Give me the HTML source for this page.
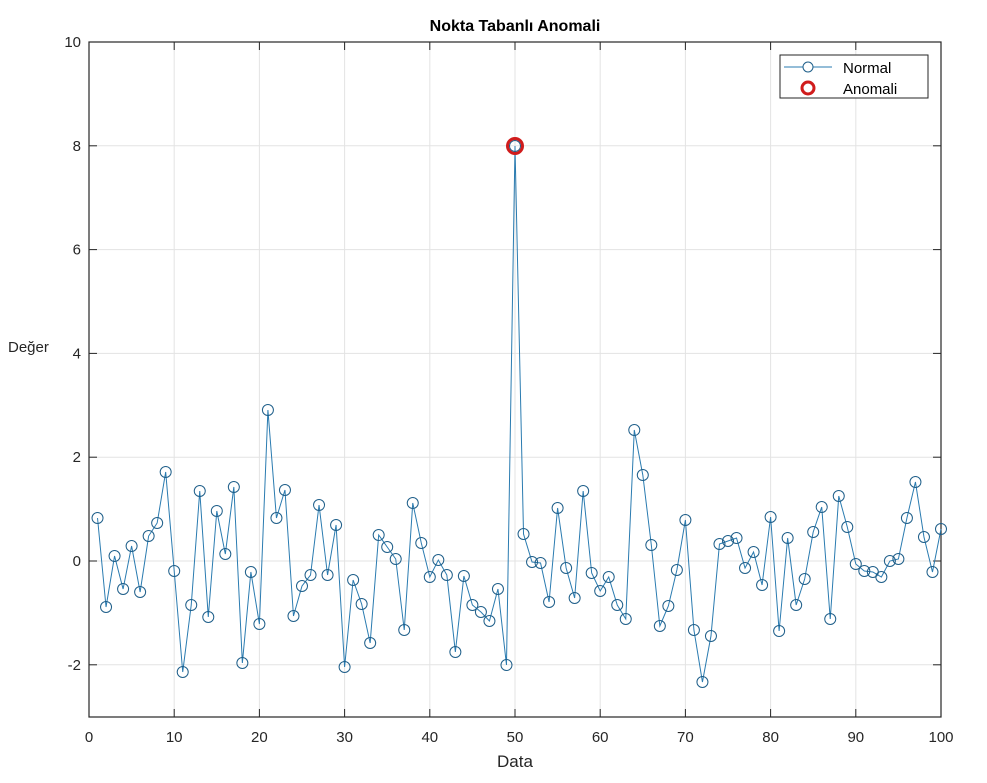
<!DOCTYPE html>
<html><head><meta charset="utf-8"><style>
body{margin:0;background:#fff;width:987px;height:783px;overflow:hidden}
svg{display:block;font-family:"Liberation Sans",sans-serif}
</style></head><body>
<svg id="s" width="987" height="783" xmlns="http://www.w3.org/2000/svg"></svg>
<script>
const ys=[518,607,556,589,546,592,536,523,472,571,672,605,491,617,511,554,487,663,572,624,410,518,490,616,586,575,505,575,525,667,580,604,643,535,547,559,630,503,543,577,560,575,652,576,605,612,621,589,665,146,534,562,563,602,508,568,598,491,573,591,577,605,619,430,475,545,626,606,570,520,630,682,636,544,541,538,568,552,585,517,631,538,605,579,532,507,619,496,527,564,571,572,577,561,559,518,482,537,572,529];
const L=89,R=941,T=42,B=717;
const X=i=>L+(R-L)*i/100, Y=v=>561-v*51.9;
let h='';
h+=`<rect x="${L}" y="${T}" width="${R-L}" height="${B-T}" fill="#fff"/>`;
for(let i=10;i<100;i+=10)h+=`<line x1="${X(i)}" y1="${T}" x2="${X(i)}" y2="${B}" stroke="#e3e3e3"/>`;
for(let v=-2;v<=8;v+=2)h+=`<line x1="${L}" y1="${Y(v)}" x2="${R}" y2="${Y(v)}" stroke="#e3e3e3"/>`;
h+=`<rect x="${L}" y="${T}" width="${R-L}" height="${B-T}" fill="none" stroke="#262626" stroke-width="1.2"/>`;
for(let i=0;i<=100;i+=10){h+=`<line x1="${X(i)}" y1="${B}" x2="${X(i)}" y2="${B-8}" stroke="#262626"/><line x1="${X(i)}" y1="${T}" x2="${X(i)}" y2="${T+8}" stroke="#262626"/><text x="${X(i)}" y="742" font-size="15" text-anchor="middle" fill="#262626">${i}</text>`;}
for(let v=-2;v<=10;v+=2){h+=`<line x1="${L}" y1="${Y(v)}" x2="${L+8}" y2="${Y(v)}" stroke="#262626"/><line x1="${R}" y1="${Y(v)}" x2="${R-8}" y2="${Y(v)}" stroke="#262626"/><text x="${L-8}" y="${Y(v)+5}" font-size="15" text-anchor="end" fill="#262626">${v}</text>`;}
h+=`<polyline fill="none" stroke="#2a7bb0" stroke-width="1" points="${ys.map((y,i)=>X(i+1)+','+y).join(' ')}"/>`;
ys.forEach((y,i)=>h+=`<circle cx="${X(i+1)}" cy="${y}" r="5.5" fill="none" stroke="#1f5f8a" stroke-width="1"/>`);
h+=`<circle cx="${X(50)}" cy="146" r="7.5" fill="none" stroke="#d01c1c" stroke-width="3"/>`;
h+=`<text x="515" y="31" font-size="16" font-weight="bold" text-anchor="middle" fill="#000">Nokta Tabanlı Anomali</text>`;
h+=`<text x="515" y="767" font-size="17" text-anchor="middle" fill="#262626">Data</text>`;
h+=`<text x="8" y="352" font-size="15" fill="#262626">Değer</text>`;
h+=`<rect x="780" y="55" width="148" height="43" fill="#fff" stroke="#262626"/>`;
h+=`<line x1="784" y1="67" x2="832" y2="67" stroke="#2a7bb0"/><circle cx="808" cy="67" r="5" fill="#fff" stroke="#1f5f8a"/>`;
h+=`<text x="843" y="73" font-size="15" fill="#000">Normal</text>`;
h+=`<circle cx="808" cy="88" r="6" fill="none" stroke="#d01c1c" stroke-width="3"/>`;
h+=`<text x="843" y="94" font-size="15" fill="#000">Anomali</text>`;
document.getElementById('s').innerHTML=h;
</script>
</body></html>
